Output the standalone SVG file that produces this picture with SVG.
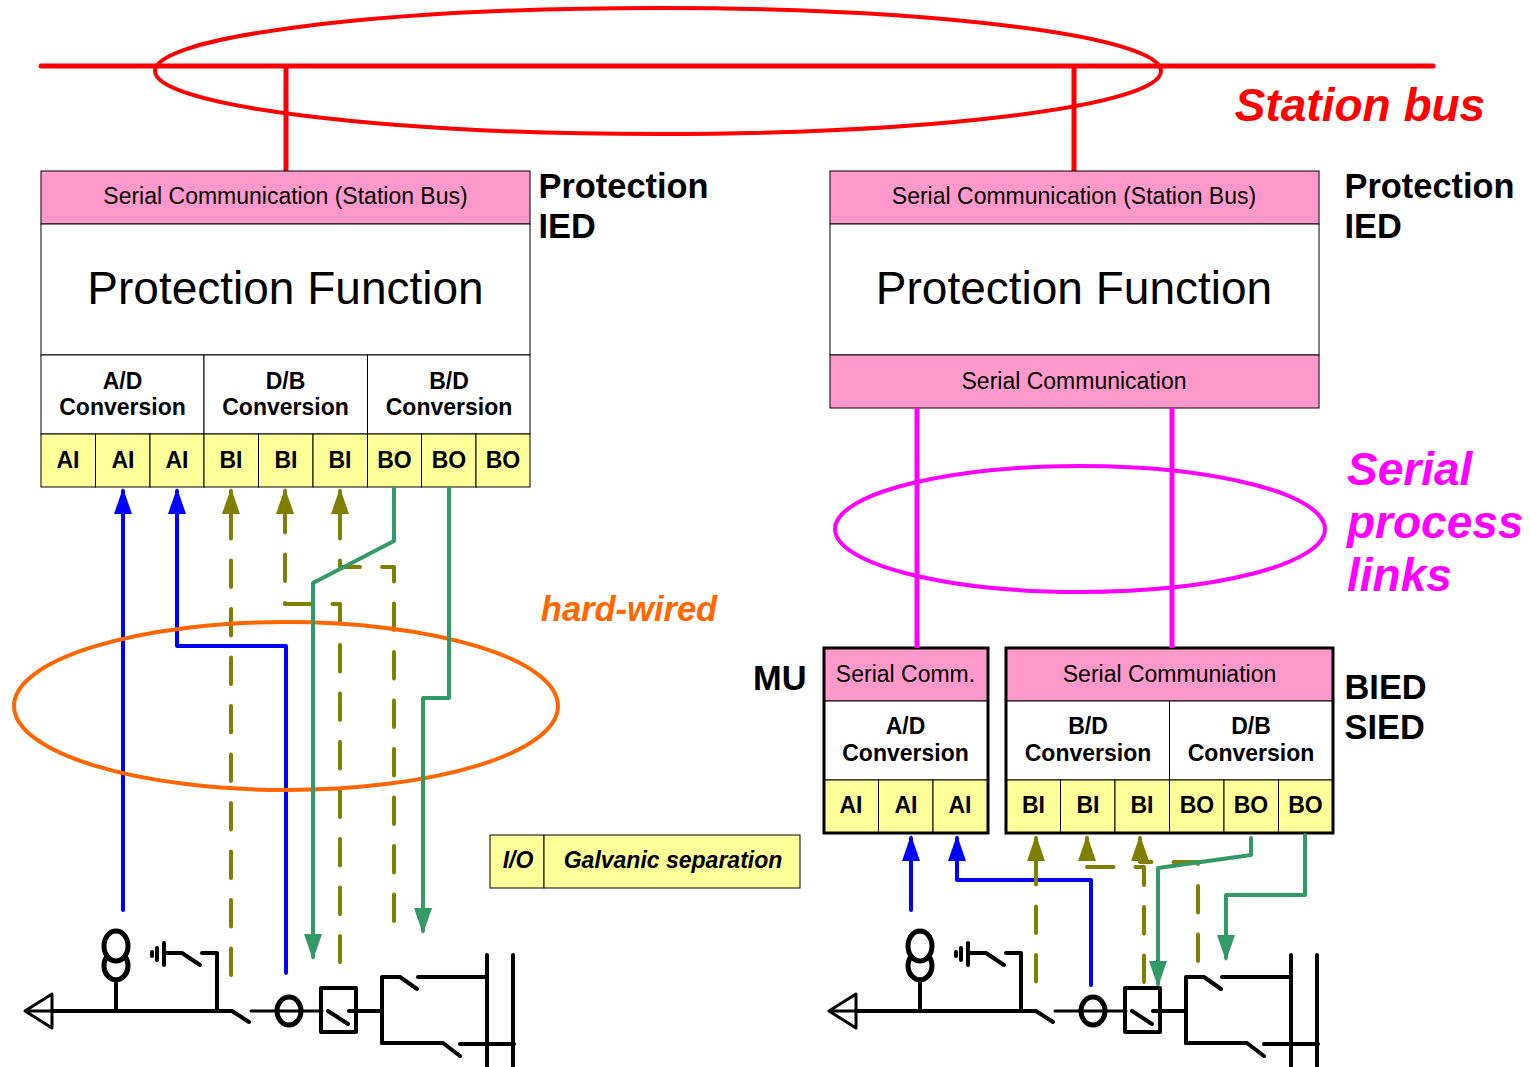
<svg xmlns="http://www.w3.org/2000/svg" width="1530" height="1067" viewBox="0 0 1530 1067">
<style>
text{font-family:"Liberation Sans",Arial,sans-serif;text-anchor:middle;fill:#000}
.b{font-weight:bold}
.p{fill:#FF99CC}.y{fill:#FFFF99}.w{fill:#fff}
.t1 rect{stroke:#000;stroke-width:1}
.t3 rect{stroke:#000;stroke-width:1}
.s{font-size:23px}
.c{font-size:23px;font-weight:bold}
.f{font-size:46px}
.l{font-size:34.400px;font-weight:bold;text-anchor:start}
.n{fill:none;stroke-linecap:round;stroke-linejoin:round}
.blue{stroke:#0000FF;stroke-width:4}
.ol{stroke:#808000;stroke-width:4;stroke-dasharray:26.500 22}
.ols{stroke:#808000;stroke-width:4}
.gr{stroke:#339966;stroke-width:4}
.sym{fill:none;stroke:#000;stroke-width:4;stroke-linecap:round;stroke-linejoin:round}
.thin{stroke-width:3}
.vt{stroke-width:5}
.it{font-style:italic;font-weight:bold;text-anchor:start;font-size:46px;fill:#FF00FF}
</style>
<defs>
<marker id="mb" markerUnits="userSpaceOnUse" markerWidth="26" markerHeight="18" refX="23" refY="9" orient="auto" viewBox="0 0 26 18"><path d="M0 0L26 9L0 18Z" fill="#0000FF"/></marker>
<marker id="mo" markerUnits="userSpaceOnUse" markerWidth="26" markerHeight="18" refX="23" refY="9" orient="auto" viewBox="0 0 26 18"><path d="M0 0L26 9L0 18Z" fill="#808000"/></marker>
<marker id="mg" markerUnits="userSpaceOnUse" markerWidth="26" markerHeight="18" refX="23" refY="9" orient="auto" viewBox="0 0 26 18"><path d="M0 0L26 9L0 18Z" fill="#339966"/></marker>
<g id="sld">
<path class="sym thin" d="M52 1011L25 1011L52 994V1028L25 1011"/>
<path class="sym" d="M52 1011H232L249 1022"/>
<path class="sym thin" d="M251 1011H322"/>
<ellipse class="sym vt" cx="289" cy="1011" rx="12" ry="14"/>
<rect class="sym" x="321" y="988" width="35" height="44"/>
<path class="sym" d="M328 1011L348 1024"/>
<path class="sym" d="M349 1011H382"/>
<ellipse class="sym vt" cx="116" cy="946" rx="12" ry="15"/>
<path class="sym vt" d="M106 958A12 14 0 1 0 126 958"/>
<path class="sym" d="M116 983V1011"/>
<path class="sym" d="M164 943V965M164 953H182L200 965M157 948V960M152 952V956M202 953H217V1011"/>
<path class="sym" d="M382 1043V977H400L417 989M418 977H487"/>
<path class="sym" d="M382 1043H443L460 1056M460 1044H514"/>
<path class="sym" d="M487 955V1067M513 955V1067"/>
</g>
</defs>
<rect width="1530" height="1067" fill="#fff"/>

<g id="station-bus" fill="none" stroke="#FF0000">
<ellipse cx="658" cy="71" rx="503" ry="63" stroke-width="4"/>
<path d="M41 66H1433" stroke-width="5" stroke-linecap="round"/>
<path d="M286 66V173M1074 66V173" stroke-width="5"/>
</g>
<text x="1360" y="121" class="b" font-style="italic" font-size="46" style="fill:#FF0000">Station bus</text>

<g id="ied-left" class="t1">
<rect class="p" x="41" y="171" width="489" height="53"/>
<rect class="w" x="41" y="224" width="489" height="131"/>
<rect class="w" x="41" y="355" width="163" height="79"/>
<rect class="w" x="204" y="355" width="163.500" height="79"/>
<rect class="w" x="367.500" y="355" width="162.500" height="79"/>
<rect class="y" x="41" y="434" width="54.500" height="53"/><rect class="y" x="95.500" y="434" width="54.500" height="53"/><rect class="y" x="150" y="434" width="54" height="53"/><rect class="y" x="204" y="434" width="54.500" height="53"/><rect class="y" x="258.500" y="434" width="54.500" height="53"/><rect class="y" x="313" y="434" width="54.500" height="53"/><rect class="y" x="367.500" y="434" width="54" height="53"/><rect class="y" x="421.500" y="434" width="54.500" height="53"/><rect class="y" x="476" y="434" width="54" height="53"/>
<text class="s" x="285.500" y="204">Serial Communication (Station Bus)</text>
<text class="f" x="285.500" y="304">Protection Function</text>
<text class="c" x="122.500" y="389">A/D</text><text class="c" x="122.500" y="415">Conversion</text>
<text class="c" x="285.500" y="389">D/B</text><text class="c" x="285.500" y="415">Conversion</text>
<text class="c" x="449" y="389">B/D</text><text class="c" x="449" y="415">Conversion</text>
<text class="c" x="68" y="468">AI</text><text class="c" x="123" y="468">AI</text><text class="c" x="177" y="468">AI</text><text class="c" x="231" y="468">BI</text><text class="c" x="286" y="468">BI</text><text class="c" x="340" y="468">BI</text><text class="c" x="394.500" y="468">BO</text><text class="c" x="449" y="468">BO</text><text class="c" x="503" y="468">BO</text>
</g>
<text class="l" x="538.500" y="198">Protection</text>
<text class="l" x="538.500" y="238">IED</text>

<g id="ied-right" class="t1">
<rect class="p" x="830" y="171" width="489" height="53"/>
<rect class="w" x="830" y="224" width="489" height="131"/>
<rect class="p" x="830" y="355" width="489" height="53"/>
<text class="s" x="1074" y="204">Serial Communication (Station Bus)</text>
<text class="f" x="1074" y="304">Protection Function</text>
<text class="s" x="1074" y="389">Serial Communication</text>
</g>
<text class="l" x="1344.500" y="198">Protection</text>
<text class="l" x="1344.500" y="238">IED</text>

<g id="mu" class="t3">
<rect class="p" x="824" y="648" width="164" height="53"/>
<rect class="w" x="824" y="701" width="164" height="79"/>
<rect class="y" x="824" y="780" width="54.500" height="53"/><rect class="y" x="878.500" y="780" width="54.500" height="53"/><rect class="y" x="933" y="780" width="55" height="53"/>
<rect x="824" y="648" width="164" height="185" fill="none" style="stroke-width:3"/>
<text class="s" x="905.500" y="682">Serial Comm.</text>
<text class="c" x="905.500" y="734">A/D</text><text class="c" x="905.500" y="761">Conversion</text>
<text class="c" x="851" y="813">AI</text><text class="c" x="906" y="813">AI</text><text class="c" x="960" y="813">AI</text>
</g>
<text class="l" x="753" y="690">MU</text>

<g id="bied" class="t3">
<rect class="p" x="1006" y="648" width="327" height="53"/>
<rect class="w" x="1006" y="701" width="163.500" height="79"/>
<rect class="w" x="1169.500" y="701" width="163.500" height="79"/>
<rect class="y" x="1006" y="780" width="54.500" height="53"/><rect class="y" x="1060.500" y="780" width="54.500" height="53"/><rect class="y" x="1115" y="780" width="54.500" height="53"/><rect class="y" x="1169.500" y="780" width="54.500" height="53"/><rect class="y" x="1224" y="780" width="54.500" height="53"/><rect class="y" x="1278.500" y="780" width="54.500" height="53"/>
<rect x="1006" y="648" width="327" height="185" fill="none" style="stroke-width:3"/>
<text class="s" x="1169.500" y="682">Serial Communiation</text>
<text class="c" x="1088" y="734">B/D</text><text class="c" x="1088" y="761">Conversion</text>
<text class="c" x="1251" y="734">D/B</text><text class="c" x="1251" y="761">Conversion</text>
<text class="c" x="1033.500" y="813">BI</text><text class="c" x="1088" y="813">BI</text><text class="c" x="1142" y="813">BI</text><text class="c" x="1197" y="813">BO</text><text class="c" x="1251" y="813">BO</text><text class="c" x="1305.500" y="813">BO</text>
</g>
<text class="l" x="1344.500" y="699">BIED</text>
<text class="l" x="1344.500" y="739">SIED</text>

<g id="legend" class="t1">
<rect class="y" x="490" y="835" width="54" height="53"/>
<rect class="y" x="544" y="835" width="256" height="53"/>
<text x="518" y="868" class="b" font-style="italic" font-size="23">I/O</text>
<text x="673" y="868" class="b" font-style="italic" font-size="23">Galvanic separation</text>
</g>

<g id="sld-left"><use href="#sld"/></g>
<g id="sld-right"><use href="#sld" x="804"/></g>

<g id="connectors">
<path class="n ol" d="M231 512V975"/>
<path class="n ols" d="M231 512V491" marker-end="url(#mo)"/>
<path class="n ol" d="M285 506V604H340V962"/>
<path class="n ols" d="M285 512V491" marker-end="url(#mo)"/>
<path class="n ol" d="M340 512V567H394V921"/>
<path class="n ols" d="M340 512V491" marker-end="url(#mo)"/>
<path class="n blue" d="M123 910V491" marker-end="url(#mb)"/>
<path class="n blue" d="M286 973V646H177V491" marker-end="url(#mb)"/>
<ellipse cx="286" cy="706" rx="272" ry="84" fill="none" stroke="#FF6600" stroke-width="4"/>
<path class="n gr" d="M394 488V541L313 583V957" marker-end="url(#mg)"/>
<path class="n gr" d="M449 488V698H423V931" marker-end="url(#mg)"/>

<path d="M917 408V648M1172 408V648" fill="none" stroke="#FF00FF" stroke-width="5"/>
<ellipse cx="1080" cy="529" rx="245" ry="63" fill="none" stroke="#FF00FF" stroke-width="4"/>

<path class="n blue" d="M911 910V838" marker-end="url(#mb)"/>
<path class="n blue" d="M1091 985V880H957V838" marker-end="url(#mb)"/>
<path class="n ol" d="M1036 858V983"/>
<path class="n ols" d="M1036 858V838" marker-end="url(#mo)"/>
<path class="n ol" d="M1087 867H1144V985"/>
<path class="n ols" d="M1087 856V838" marker-end="url(#mo)"/>
<path class="n ol" d="M1140 847V862H1198V962"/>
<path class="n ols" d="M1140 856V838" marker-end="url(#mo)"/>
<path class="n gr" d="M1251 838V855L1158 868V984" marker-end="url(#mg)"/>
<path class="n gr" d="M1305 835V895H1226V958" marker-end="url(#mg)"/>
</g>

<text x="629" y="621" class="b" font-style="italic" font-size="34.500" style="fill:#FF6600">hard-wired</text>
<g id="serial-links-label">
<text x="1347" y="485" class="it">Serial</text>
<text x="1347" y="538" class="it">process</text>
<text x="1347" y="591" class="it">links</text>
</g>
</svg>
